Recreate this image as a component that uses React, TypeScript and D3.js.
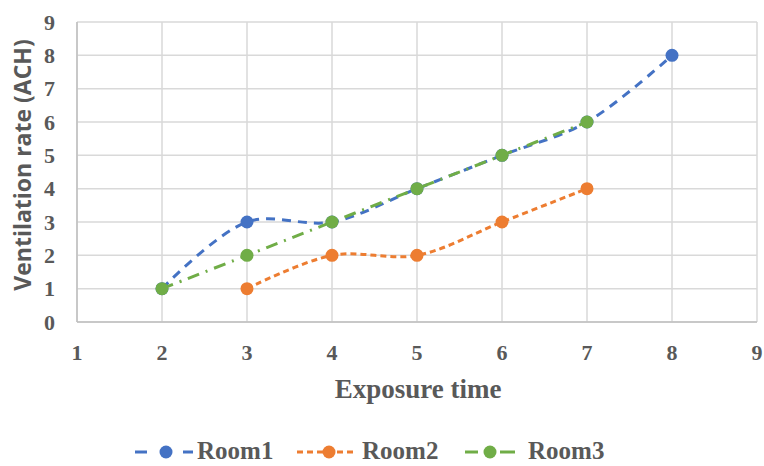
import React from "react";
import * as d3 from "d3";

const xTicks = [1, 2, 3, 4, 5, 6, 7, 8, 9];
const yTicks = [0, 1, 2, 3, 4, 5, 6, 7, 8, 9];
const room1X = [2, 3, 4, 5, 6, 7, 8];
const room1Y = [1, 3, 3, 4, 5, 6, 8];
const room2X = [3, 4, 5, 6, 7];
const room2Y = [1, 2, 2, 3, 4];
const room3X = [2, 3, 4, 5, 6, 7];
const room3Y = [1, 2, 3, 4, 5, 6];
const seriesNames = ["Room1", "Room2", "Room3"];

const W = 764, H = 466;
const left = 77, right = 757, top = 22, bottom = 322;

export default function App() {
  const x = d3.scaleLinear().domain([1, 9]).range([left, right]);
  const y = d3.scaleLinear().domain([0, 9]).range([bottom, top]);
  const line = d3
    .line<[number, number]>()
    .x((d) => x(d[0]))
    .y((d) => y(d[1]))
    .curve(d3.curveCatmullRom.alpha(0.5));

  const series = [
    { name: seriesNames[0], xs: room1X, ys: room1Y, color: "#4472C4", dash: "9,7", ldash: "12,36,10" },
    { name: seriesNames[1], xs: room2X, ys: room2Y, color: "#ED7D31", dash: "6,4", ldash: "6,4" },
    { name: seriesNames[2], xs: room3X, ys: room3Y, color: "#70AD47", dash: "12,7,2,7", ldash: "13,22,15" },
  ];
  const legendX = [135, 297, 465];
  const legendW = [58, 60, 50];
  const legendT = [197, 362, 528];
  const serif = "'Liberation Serif', 'Times New Roman', serif";
  const grid = "#d9d9d9";
  const textC = "#595959";

  return (
    <svg width={W} height={H} style={{ position: "absolute", left: 0, top: 0 }}>
      <rect width={W} height={H} fill="#fff" />
      {yTicks.map((t) => (
        <line key={"gy" + t} x1={left} x2={right} y1={y(t)} y2={y(t)} stroke={grid} strokeWidth={1.5} />
      ))}
      {xTicks.map((t) => (
        <line key={"gx" + t} x1={x(t)} x2={x(t)} y1={top} y2={bottom} stroke={grid} strokeWidth={1.5} />
      ))}
      <line x1={left} x2={left} y1={top} y2={bottom} stroke="#bfbfbf" strokeWidth={1.5} />
      <line x1={left} x2={right} y1={bottom} y2={bottom} stroke="#bfbfbf" strokeWidth={1.5} />
      {yTicks.map((t) => (
        <text key={"ty" + t} x={55} y={y(t)} dy="0.35em" textAnchor="end" fontFamily={serif} fontWeight="bold" fontSize={22} fill={textC}>
          {t}
        </text>
      ))}
      {xTicks.map((t) => (
        <text key={"tx" + t} x={x(t)} y={360} textAnchor="middle" fontFamily={serif} fontWeight="bold" fontSize={22} fill={textC}>
          {t}
        </text>
      ))}
      <text x={418} y={398} textAnchor="middle" fontFamily={serif} fontWeight="bold" fontSize={27} fill={textC}>
        Exposure time
      </text>
      <text
        transform={`translate(31,165) rotate(-90)`}
        textAnchor="middle"
        fontFamily="'Open Sans', 'Liberation Sans', sans-serif"
        fontWeight="bold"
        fontSize={23}
        fill={textC}
      >
        Ventilation rate (ACH)
      </text>
      {series.map((s) => {
        const pts = s.xs.map((v, i) => [v, s.ys[i]] as [number, number]);
        return (
          <g key={s.name}>
            <path d={line(pts) || ""} fill="none" stroke={s.color} strokeWidth={3} strokeDasharray={s.dash} />
            {pts.map((p, i) => (
              <circle key={i} cx={x(p[0])} cy={y(p[1])} r={6.5} fill={s.color} />
            ))}
          </g>
        );
      })}
      {series.map((s, i) => (
        <g key={"lg" + s.name}>
          <line x1={legendX[i]} x2={legendX[i] + legendW[i]} y1={452} y2={452} stroke={s.color} strokeWidth={3} strokeDasharray={s.ldash} />
          <circle cx={legendX[i] + (i === 2 ? 25 : legendW[i] / 2 + 2)} cy={452} r={6.5} fill={s.color} />
          <text x={legendT[i]} y={459} fontFamily={serif} fontWeight="bold" fontSize={25} fill={textC}>
            {s.name}
          </text>
        </g>
      ))}
    </svg>
  );
}
